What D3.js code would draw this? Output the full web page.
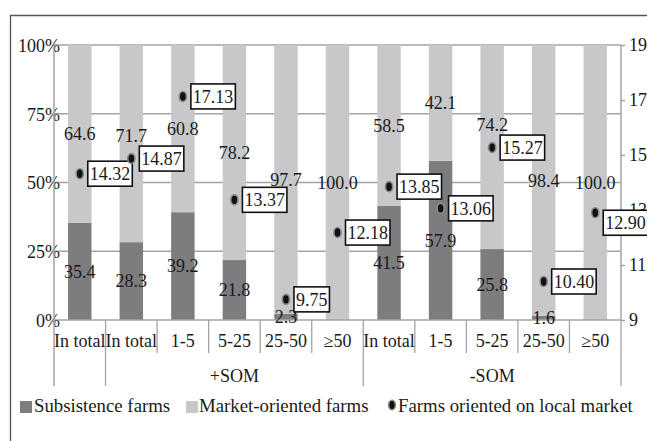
<!DOCTYPE html>
<html>
<head>
<meta charset="utf-8">
<script src="https://cdn.jsdelivr.net/npm/d3@7"></script>
<style>
  html, body { margin: 0; padding: 0; background: #fff; }
  svg { display: block; }
</style>
</head>
<body>
<svg id="chart" width="647" height="441"></svg>
<script>
// Farm categories by size group (ha), with and without SOM
const categories = ["In total", "In total", "1-5", "5-25", "25-50", "\u226550",
                    "In total", "1-5", "5-25", "25-50", "\u226550"];
const groups = [
  { name: "", from: 0, to: 0 },
  { name: "+SOM", from: 1, to: 5 },
  { name: "-SOM", from: 6, to: 10 }
];
// Share of farms, %
const subsistence = [35.4, 28.3, 39.2, 21.8, 2.3, 0, 41.5, 57.9, 25.8, 1.6, 0];
const marketOriented = [64.6, 71.7, 60.8, 78.2, 97.7, 100.0, 58.5, 42.1, 74.2, 98.4, 100.0];
// Farms oriented on local market (right axis)
const localMarket = [14.32, 14.87, 17.13, 13.37, 9.75, 12.18, 13.85, 13.06, 15.27, 10.40, 12.90];
const localLabels = ["14.32", "14.87", "17.13", "13.37", "9.75", "12.18", "13.85", "13.06", "15.27", "10.40", "12.90"];
const leftTicks = [0, 25, 50, 75, 100];
const rightTicks = [9, 11, 13, 15, 17, 19];

const FONT = "Liberation Serif";
const DARK = "#7d7d7f";
const LIGHT = "#c8c8ca";
const GRID = "#a3a3a3";
const TEXT = "#1a1a1a";

const svg = d3.select("#chart").attr("font-family", FONT);
const plotL = 54, plotR = 621, plotT = 45, plotB = 320;

const idx = d3.range(categories.length);
const x = d3.scaleBand().domain(idx).range([plotL, plotR]).paddingInner(0.545).paddingOuter(0.2725);
const step = x.step();
const xc = i => x(i) + x.bandwidth() / 2;
const y = d3.scaleLinear().domain([0, 100]).range([plotB, plotT]);
const y2 = d3.scaleLinear().domain([9, 19]).range([plotB, plotT]);

// outer frame
svg.append("path").attr("d", "M10.5,441 L10.5,15.5 L647,15.5")
  .attr("fill", "none").attr("stroke", "#555").attr("stroke-width", 1.3);

// gridlines
svg.append("g").selectAll("line").data(leftTicks.filter(t => t > 0)).join("line")
  .attr("x1", plotL).attr("x2", plotR)
  .attr("y1", d => y(d)).attr("y2", d => y(d))
  .attr("stroke", GRID).attr("stroke-width", 1.5);

// stacked bars
const rows = idx.map(i => ({ i, sub: subsistence[i], mkt: marketOriented[i] }));
const stack = d3.stack().keys(["sub", "mkt"])(rows);
const colors = { sub: DARK, mkt: LIGHT };
svg.append("g").selectAll("g").data(stack).join("g")
  .attr("fill", d => colors[d.key])
  .selectAll("rect").data(d => d).join("rect")
  .attr("x", d => x(d.data.i)).attr("width", x.bandwidth())
  .attr("y", d => y(d[1])).attr("height", d => y(d[0]) - y(d[1]));

// baseline
svg.append("line").attr("x1", plotL).attr("x2", plotR).attr("y1", plotB).attr("y2", plotB)
  .attr("stroke", GRID).attr("stroke-width", 1.5);

// left axis
const yAxis = svg.append("g").attr("transform", `translate(${plotL},0)`)
  .call(d3.axisLeft(y).tickValues(leftTicks).tickSize(0).tickFormat(d => d + "%"));
yAxis.attr("font-family", FONT).attr("font-size", 18);
yAxis.select(".domain").remove();
yAxis.selectAll("text").attr("x", 6).attr("dy", "0.35em").attr("fill", TEXT);
svg.append("line").attr("x1", plotL).attr("x2", plotL).attr("y1", plotT).attr("y2", 386)
  .attr("stroke", GRID).attr("stroke-width", 1.5);

// right axis
const yAxis2 = svg.append("g").attr("transform", `translate(${plotR},0)`)
  .call(d3.axisRight(y2).tickValues(rightTicks).tickSize(4).tickPadding(4));
yAxis2.attr("font-family", FONT).attr("font-size", 18);
yAxis2.select(".domain").attr("stroke", GRID).attr("stroke-width", 1.5).attr("d", `M0,${plotT}V${plotB}`);
yAxis2.selectAll(".tick line").attr("stroke", GRID).attr("stroke-width", 1.5);
yAxis2.selectAll("text").attr("fill", TEXT);

// category separators
const bounds = d3.range(categories.length + 1);
const longBounds = new Set([0, 1, 6, 11]);
svg.append("g").selectAll("line").data(bounds.filter(b => b > 0)).join("line")
  .attr("x1", b => plotL + b * step).attr("x2", b => plotL + b * step)
  .attr("y1", plotB).attr("y2", b => longBounds.has(b) ? 386 : 353)
  .attr("stroke", GRID).attr("stroke-width", 1.3);

// category labels
svg.append("g").selectAll("text").data(idx).join("text")
  .attr("x", i => xc(i)).attr("y", 347)
  .attr("text-anchor", "middle").attr("font-size", 18).attr("fill", TEXT)
  .text(i => categories[i]);

// group labels
svg.append("g").selectAll("text").data(groups.filter(g => g.name)).join("text")
  .attr("x", g => (xc(g.from) + xc(g.to)) / 2).attr("y", 382)
  .attr("text-anchor", "middle").attr("font-size", 18).attr("fill", TEXT)
  .text(g => g.name);

// value labels in bar segments
const labelG = svg.append("g").attr("font-size", 18).attr("fill", TEXT).attr("text-anchor", "middle");
labelG.selectAll("text.sub").data(idx.filter(i => subsistence[i] > 0)).join("text")
  .attr("class", "sub")
  .attr("x", i => xc(i)).attr("y", i => y(subsistence[i] / 2)).attr("dy", "0.35em")
  .text(i => subsistence[i].toFixed(1));
const mktLabels = labelG.selectAll("text.mkt").data(idx).join("text")
  .attr("class", "mkt")
  .attr("x", i => xc(i)).attr("y", i => y(subsistence[i] + marketOriented[i] / 2)).attr("dy", "0.35em")
  .text(i => marketOriented[i].toFixed(1));

// local market points with boxed labels
const boxes = [];
const pts = svg.append("g");
const pg = pts.selectAll("g").data(idx).join("g")
  .attr("transform", i => `translate(${xc(i)},${y2(localMarket[i])})`);
pg.append("ellipse").attr("rx", 3.6).attr("ry", 5)
  .attr("fill", "#111").attr("stroke", "#8a8a8a").attr("stroke-width", 1.6);
pg.each(function(i) {
  const g = d3.select(this);
  const t = g.append("text").attr("x", 10).attr("dy", "0.35em")
    .attr("font-size", 18).attr("fill", TEXT).text(localLabels[i]);
  const w = t.node().getComputedTextLength();
  // boxes running past the right axis drop below its tick label
  const shift = xc(i) + 8 + w + 4 > plotR ? 10 : 0;
  t.attr("y", shift);
  g.insert("rect", "text").attr("x", 8).attr("y", -12.5 + shift).attr("width", w + 4).attr("height", 25)
    .attr("fill", "#fff").attr("stroke", "#111").attr("stroke-width", 1.6);
  const cy = y2(localMarket[i]) + shift;
  boxes.push({ x0: xc(i) + 8, x1: xc(i) + 12 + w, y0: cy - 12.5, y1: cy + 12.5 });
});

// lift market labels that would sit under a value box
mktLabels.each(function(i) {
  const t = d3.select(this);
  const w = this.getComputedTextLength();
  const cy = +t.attr("y");
  const lx0 = xc(i) - w / 2, lx1 = xc(i) + w / 2;
  boxes.forEach(b => {
    if (lx1 > b.x0 && lx0 < b.x1 && cy + 6 > b.y0 && cy - 6 < b.y1) {
      t.attr("y", b.y0 - 10);
    }
  });
});

// legend
const lg = svg.append("g").attr("font-size", 18.8).attr("fill", TEXT);
lg.append("rect").attr("x", 20).attr("y", 401).attr("width", 12).attr("height", 12).attr("fill", DARK);
lg.append("text").attr("x", 34).attr("y", 411.5).text("Subsistence farms");
lg.append("rect").attr("x", 186).attr("y", 401).attr("width", 12).attr("height", 12).attr("fill", LIGHT);
lg.append("text").attr("x", 199).attr("y", 411.5).text("Market-oriented farms");
lg.append("ellipse").attr("cx", 392).attr("cy", 405).attr("rx", 3.4).attr("ry", 4.8)
  .attr("fill", "#111").attr("stroke", "#8a8a8a").attr("stroke-width", 1.6);
lg.append("text").attr("x", 398).attr("y", 411.5).text("Farms oriented on local market");
</script>
</body>
</html>
